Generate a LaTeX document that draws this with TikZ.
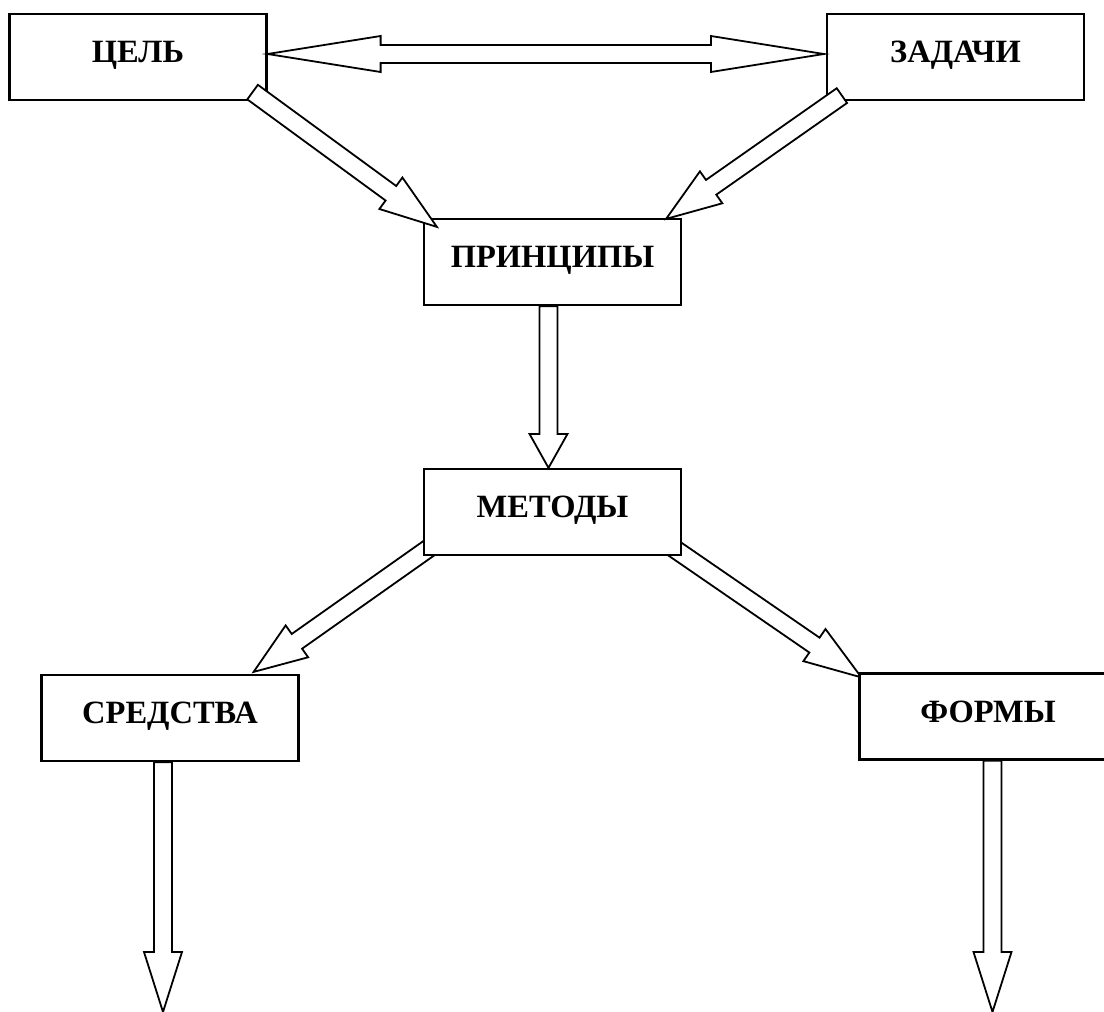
\documentclass[tikz,border=0pt]{standalone}
\usepackage{fontspec}
\setmainfont{Liberation Serif}
\usetikzlibrary{calc,backgrounds}
\tikzset{
  box/.style={draw, line width=2.2pt, fill=white, inner xsep=0pt, inner ysep=0pt,
    minimum width=257pt, text height=48.5pt, text depth=37.5pt,
    font=\fontsize{32.5}{38}\selectfont\bfseries},
  arrline/.style={draw, line width=1.8pt, fill=white, line join=miter}
}
% #1 from, #2 to, #3 half shaft, #4 half head, #5 head length
\newcommand{\blockarrow}[5]{%
  \coordinate (bah) at ($(#2)!#5!(#1)$);
  \path[arrline] ($(#1)!#3!90:(#2)$) -- ($(bah)!#3!-90:(#1)$) -- ($(bah)!#4!-90:(#1)$)
    -- (#2) -- ($(bah)!#4!90:(#1)$) -- ($(bah)!#3!90:(#1)$) -- ($(#1)!#3!-90:(#2)$) -- cycle;
}
\newcommand{\dblarrow}[5]{%
  \coordinate (bha) at ($(#1)!#5!(#2)$);
  \coordinate (bhb) at ($(#2)!#5!(#1)$);
  \path[arrline] (#1) -- ($(bha)!#4!90:(#2)$) -- ($(bha)!#3!90:(#2)$)
    -- ($(bhb)!#3!-90:(#1)$) -- ($(bhb)!#4!-90:(#1)$) -- (#2)
    -- ($(bhb)!#4!90:(#1)$) -- ($(bhb)!#3!90:(#1)$)
    -- ($(bha)!#3!-90:(#2)$) -- ($(bha)!#4!-90:(#2)$) -- cycle;
}
\begin{document}
\begin{tikzpicture}[x=1pt,y=-1pt]
\useasboundingbox (0,0) rectangle (1104,1012);
\clip (0,0) rectangle (1104,1012);
\node[box] (cel) at (138,57) {ЦЕЛЬ};
\node[box] (zad) at (955.5,57) {ЗАДАЧИ};
\node[box] (prin) at (552.5,262) {ПРИНЦИПЫ};
\node[box] (met) at (552.5,512) {МЕТОДЫ};
\node[box] (sred) at (170,718) {СРЕДСТВА};
\node[box] (form) at (988,716.5) {ФОРМЫ};
% connector end points
\coordinate (d1) at ($(cel.east)+(0,-3)$);
\coordinate (d2) at ($(zad.west)+(-2,-3)$);
\coordinate (a1s) at ($(cel.south east)+(-15,-9)$);
\coordinate (a1e) at ($(prin.north west)+(14,9)$);
\coordinate (a2s) at ($(zad.south west)+(16,-5.5)$);
\coordinate (a2e) at ($(prin.north east)+(-16,1)$);
\coordinate (a3s) at ($(prin.south)+(-4,0)$);
\coordinate (a3e) at ($(met.north)+(-4,0)$);
\coordinate (a4s) at ($(met.south west)+(16,-15)$);
\coordinate (a4e) at ($(sred.north east)+(-46,-2)$);
\coordinate (a5s) at ($(met.south east)+(-13,-11)$);
\coordinate (a5e) at ($(form.north west)+(3,5)$);
\coordinate (a6s) at ($(sred.south)+(-7,0)$);
\coordinate (a6e) at (163,1012);
\coordinate (a7s) at ($(form.south)+(4.5,0)$);
\coordinate (a7e) at (992.5,1012);
\begin{pgfonlayer}{background}
\blockarrow{a4s}{a4e}{9pt}{19.5pt}{53pt}
\blockarrow{a5s}{a5e}{9pt}{19.5pt}{57pt}
\end{pgfonlayer}
\dblarrow{d1}{d2}{9pt}{18pt}{113pt}
\blockarrow{a1s}{a1e}{9pt}{19.5pt}{57pt}
\blockarrow{a2s}{a2e}{9pt}{19.5pt}{55pt}
\blockarrow{a3s}{a3e}{9pt}{19pt}{34pt}
\blockarrow{a6s}{a6e}{9pt}{19pt}{60pt}
\blockarrow{a7s}{a7e}{9pt}{19pt}{60pt}
\end{tikzpicture}
\end{document}
